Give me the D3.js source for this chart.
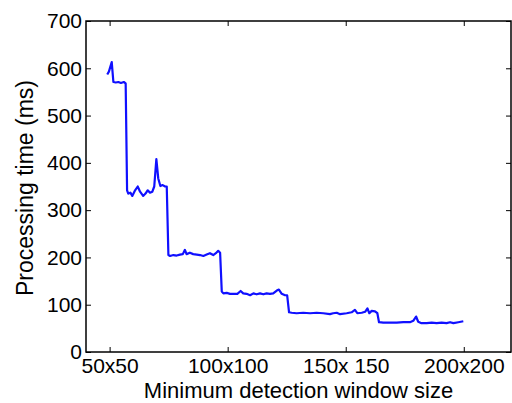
<!DOCTYPE html>
<html>
<head>
<meta charset="utf-8">
<script src="https://cdn.jsdelivr.net/npm/d3@7"></script>
<style>
    body { margin: 0; background: #fff; }
    svg text { font-family: "Liberation Sans", Arial, sans-serif; fill: #000; }
</style>
</head>
<body>
<svg id="canvas" width="512" height="403"></svg>
<script>
// window size (side length) vs processing time
let windowSizes = [49, 49.7, 50.9, 51.6, 52.6, 53.7, 54.8, 56, 56.8, 57.4, 57.9, 58.8, 59.6, 60.8, 61.9, 62.9,
    64.2, 65.2, 66.1, 67.1, 68.1, 68.9, 69.8, 70.6, 71.5, 72.5, 73.5, 74.2, 74.9, 75.6, 77, 78.4, 79.8, 81,
    81.9, 82.6, 84, 85.4, 86.9, 88.3, 89.7, 91.1, 92.5, 93.9, 95, 96, 96.8, 97.5, 98.2, 99.6, 101, 102.4,
    104.1, 105.5, 106.6, 108, 109.5, 110.9, 112.3, 113.7, 115.1, 116.5, 117.9, 119.3, 120.8, 121.7, 122.9,
    124.3, 125.2, 126, 127.1, 129.2, 132, 134.9, 137.7, 140.5, 143.3, 144.7, 146.2, 147.6, 150.4, 152.5,
    153.9, 154.9, 156.8, 158.2, 159.2, 160, 161, 162.4, 163.4, 164.1, 165.9, 168.8, 171.6, 174.4, 177.2,
    178.6, 179.8, 180.7, 182.1, 184.3, 186.4, 188.5, 190.6, 192.7, 194.2, 195.6, 197.7, 199.8];
let timesMs = [587, 593, 613, 571, 570, 571, 569, 571, 568, 342, 335, 337, 330, 342, 350, 339,
    330, 335, 342, 337, 339, 350, 408, 367, 351, 353, 350, 350, 205, 203, 205, 204, 206, 207,
    216, 207, 210, 207, 206, 205, 203, 206, 209, 205, 209, 214, 210, 128, 124, 125, 123, 123,
    123, 129, 124, 123, 120, 124, 122, 124, 122, 124, 123, 124, 130, 132, 123,
    120, 120, 84, 83, 82, 83, 82, 83, 82, 80, 82, 83, 80, 82, 84,
    89, 82, 83, 85, 92, 82, 87, 86, 82, 63, 62, 62, 62, 63, 63,
    66, 75, 64, 61, 61, 62, 61, 62, 61, 63, 61, 63, 65];

let xTicks = [50, 100, 150, 200];
let xTickLabels = ["50x50", "100x100", "150x 150", "200x200"];
let yTicks = [0, 100, 200, 300, 400, 500, 600, 700];

let plotLeft = 86, plotTop = 21, plotRight = 511, plotBottom = 352;

let canvas = d3.select("#canvas");

let xScale = d3.scaleLinear().domain([40, 220]).range([plotLeft, plotRight]);
let yScale = d3.scaleLinear().domain([0, 700]).range([plotBottom, plotTop]);

// ticks point inwards, mirrored on top and right
let xAxis = d3.axisBottom(xScale).tickValues(xTicks).tickSizeInner(-5).tickSizeOuter(0)
    .tickPadding(6).tickFormat((d, i) => xTickLabels[i]);
let yAxis = d3.axisLeft(yScale).tickValues(yTicks).tickSizeInner(-5).tickSizeOuter(0)
    .tickPadding(4);
let xAxisTop = d3.axisTop(xScale).tickValues(xTicks).tickSizeInner(-5).tickSizeOuter(0).tickFormat("");
let yAxisRight = d3.axisRight(yScale).tickValues(yTicks).tickSizeInner(-5).tickSizeOuter(0).tickFormat("");

let styleAxis = (g) => {
    g.select(".domain").remove();
    g.selectAll("line").attr("stroke", "#000").attr("stroke-width", 1);
    g.selectAll("text").style("font-size", "21px").attr("fill", "#000");
}

canvas.append("g").attr("transform", "translate(0," + plotBottom + ")").call(xAxis).call(styleAxis);
canvas.append("g").attr("transform", "translate(" + plotLeft + ",0)").call(yAxis).call(styleAxis);
canvas.append("g").attr("transform", "translate(0," + plotTop + ")").call(xAxisTop).call(styleAxis);
canvas.append("g").attr("transform", "translate(" + plotRight + ",0)").call(yAxisRight).call(styleAxis);

// frame
canvas.append("rect")
    .attr("x", plotLeft).attr("y", plotTop)
    .attr("width", plotRight - plotLeft).attr("height", plotBottom - plotTop)
    .attr("fill", "none").attr("stroke", "#000").attr("stroke-width", 1.5);

let line = d3.line()
    .x((d, i) => xScale(windowSizes[i]))
    .y(d => yScale(d));

canvas.append("path")
    .datum(timesMs)
    .attr("d", line)
    .attr("fill", "none")
    .attr("stroke", "#1010ff")
    .attr("stroke-width", 2.2)
    .attr("stroke-linejoin", "round");

canvas.append("text")
    .attr("x", (plotLeft + plotRight) / 2).attr("y", 398)
    .attr("text-anchor", "middle")
    .style("font-size", "22px")
    .text("Minimum detection window size");

canvas.append("text")
    .attr("transform", "translate(33," + 188 + ") rotate(-90)")
    .attr("text-anchor", "middle")
    .style("font-size", "23px")
    .text("Processing time (ms)");
</script>
</body>
</html>
